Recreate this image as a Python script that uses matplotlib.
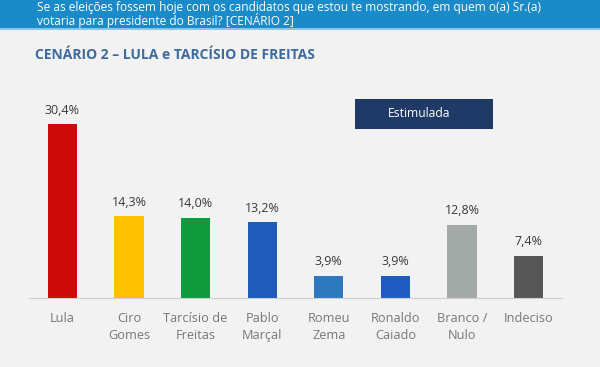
import matplotlib
matplotlib.use('Agg')
import matplotlib.pyplot as plt
from matplotlib.patches import Rectangle

# ===== DATI =====
candidati = ['Lula', 'Ciro\nGomes', 'Tarcísio de\nFreitas', 'Pablo\nMarçal',
             'Romeu\nZema', 'Ronaldo\nCaiado', 'Branco /\nNulo', 'Indeciso']
valori = [30.4, 14.3, 14.0, 13.2, 3.9, 3.9, 12.8, 7.4]
etichette = ['30,4%', '14,3%', '14,0%', '13,2%', '3,9%', '3,9%', '12,8%', '7,4%']
colori = ['#cc0a0a', '#ffc000', '#109a3e', '#1f5bb8',
          '#2e78c0', '#1f5bc0', '#a3aaa8', '#575757']

domanda = ('Se as eleições fossem hoje com os candidatos que estou te mostrando, em quem o(a) Sr.(a)\n'
           'votaria para presidente do Brasil? [CENÁRIO 2]')
titolo = 'CENÁRIO 2 – LULA e TARCÍSIO DE FREITAS'

W, H = 600, 367
plt.rcParams['font.family'] = ['Open Sans', 'DejaVu Sans']

fig = plt.figure(figsize=(W / 100, H / 100), dpi=100)
fig.patch.set_facecolor('#f2f2f2')

# banner in alto
fig.patches.append(Rectangle((0, 1 - 28 / H), 1, 28 / H, transform=fig.transFigure,
                             facecolor='#1a8ac8', edgecolor='none', zorder=0))
fig.patches.append(Rectangle((0, 1 - 30 / H), 1, 2 / H, transform=fig.transFigure,
                             facecolor='#8cc4e4', edgecolor='none', zorder=0))
fig.text(37 / W, 1 - 1 / H, domanda, color='white', fontsize=8.6,
         va='top', ha='left', linespacing=0.95)

# titolo
fig.text(35 / W, 1 - 55 / H, titolo, color='#3d6b9e', fontsize=10,
         fontweight='bold', va='center', ha='left')

# box "Estimulada"
fig.patches.append(Rectangle((355 / W, 1 - 129 / H), 138 / W, 30 / H,
                             transform=fig.transFigure, facecolor='#1f3a66',
                             edgecolor='none', zorder=1))
fig.text(419 / W, 1 - 114 / H, 'Estimulada', color='white', fontsize=8.7,
         va='center', ha='center')

# grafico a barre
# baseline a y=298 px, 5.72 px per punto percentuale
ax = fig.add_axes([29 / W, (H - 298) / H, 533 / W, 200 / H])
ax.set_facecolor('none')
x = list(range(len(valori)))
ax.bar(x, valori, width=0.44, color=colori, zorder=2)
for xi, v, lab in zip(x, valori, etichette):
    ax.text(xi, v + 1.3, lab, ha='center', va='bottom', fontsize=9, color='#3a3a3a')

ax.set_xlim(-0.5, len(valori) - 0.5)
ax.set_ylim(0, 200 / 5.72)
ax.set_yticks([])
ax.set_xticks(x)
ax.set_xticklabels(candidati, fontsize=9.2, color='#777777', linespacing=1.45)
ax.tick_params(axis='x', length=0, pad=10)
for s in ['top', 'right', 'left']:
    ax.spines[s].set_visible(False)
ax.spines['bottom'].set_color('#cfcfcf')
ax.spines['bottom'].set_linewidth(0.8)

fig.savefig('out.png', dpi=100, facecolor=fig.get_facecolor())
